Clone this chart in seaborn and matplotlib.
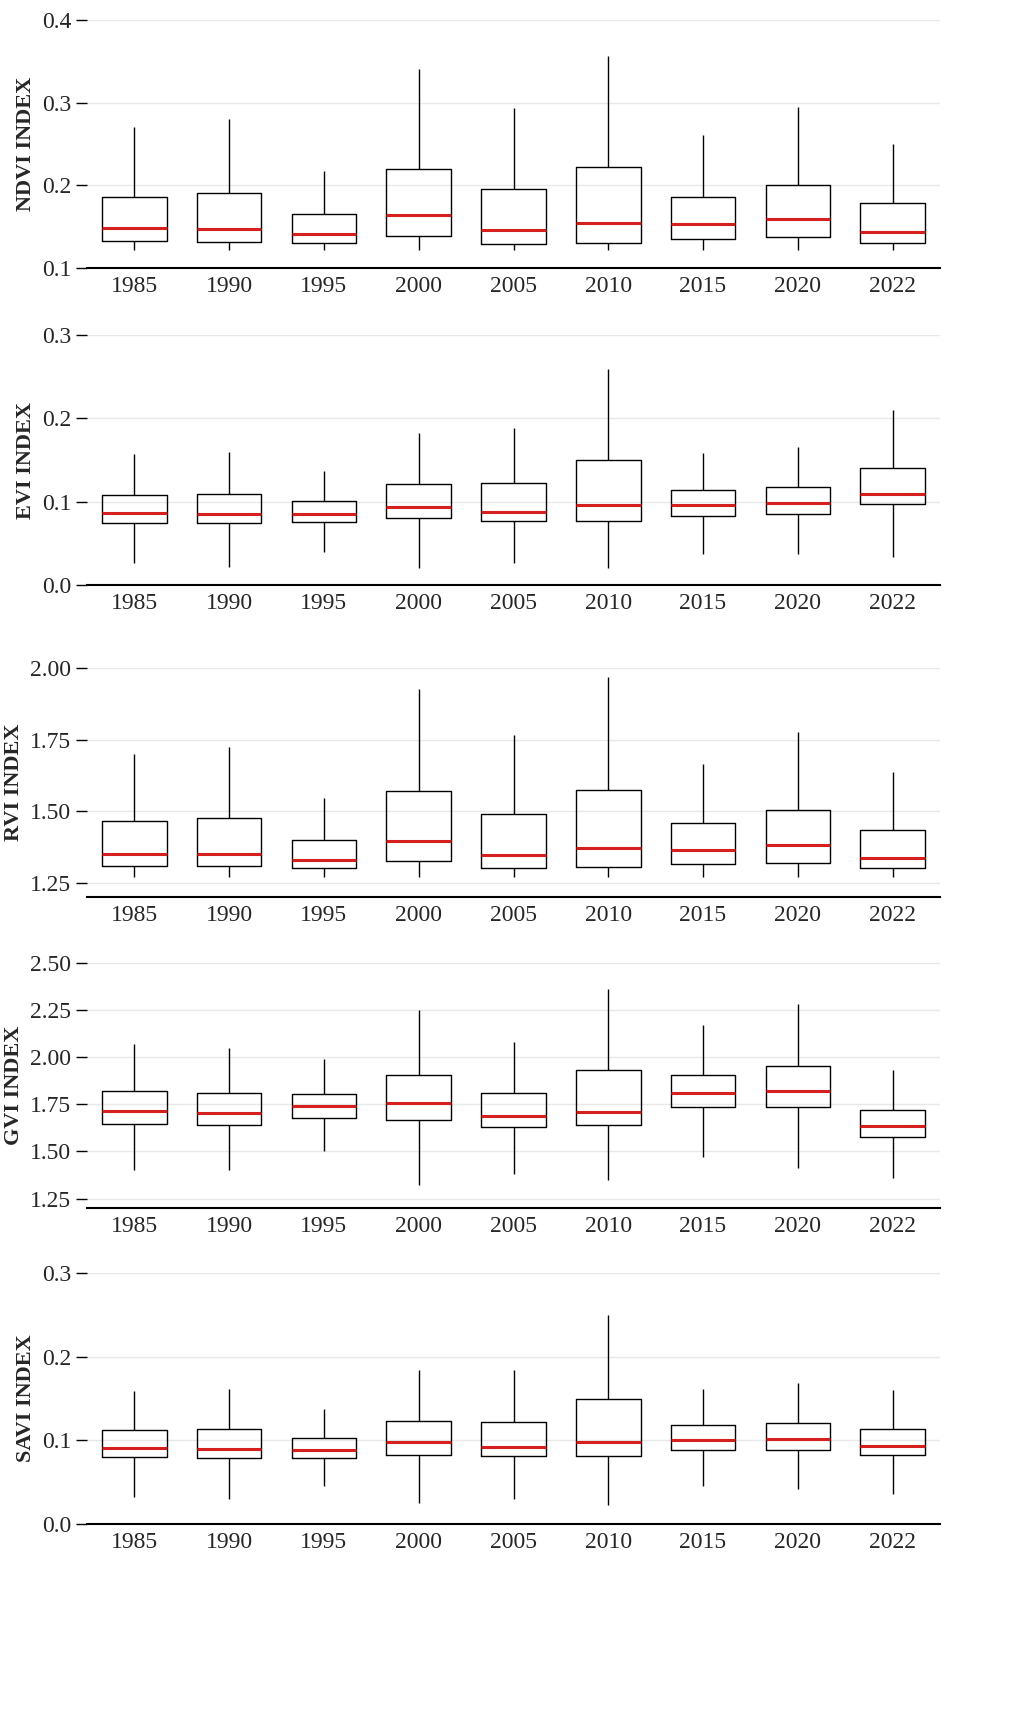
import numpy as np
import pandas as pd
import seaborn as sns
import matplotlib.pyplot as plt

years = ["1985", "1990", "1995", "2000", "2005", "2010", "2015", "2020", "2022"]

# each row: min, q1, median, q3, max
ndvi = [[0.122, 0.133, 0.148, 0.186, 0.270], [0.122, 0.131, 0.147, 0.191, 0.280],
        [0.122, 0.130, 0.141, 0.165, 0.217], [0.122, 0.139, 0.164, 0.220, 0.341],
        [0.122, 0.129, 0.146, 0.195, 0.293], [0.122, 0.130, 0.154, 0.222, 0.356],
        [0.122, 0.135, 0.153, 0.186, 0.261], [0.122, 0.137, 0.159, 0.200, 0.295],
        [0.122, 0.130, 0.144, 0.179, 0.250]]
evi = [[0.027, 0.075, 0.086, 0.108, 0.157], [0.022, 0.074, 0.085, 0.109, 0.160],
       [0.040, 0.076, 0.085, 0.101, 0.137], [0.020, 0.081, 0.094, 0.121, 0.183],
       [0.026, 0.077, 0.088, 0.122, 0.189], [0.021, 0.077, 0.096, 0.150, 0.259],
       [0.037, 0.083, 0.096, 0.114, 0.159], [0.037, 0.085, 0.098, 0.118, 0.166],
       [0.034, 0.097, 0.109, 0.141, 0.210]]
rvi = [[1.27, 1.31, 1.35, 1.465, 1.70], [1.27, 1.31, 1.35, 1.475, 1.725],
       [1.27, 1.30, 1.33, 1.40, 1.545], [1.27, 1.325, 1.395, 1.57, 1.925],
       [1.27, 1.30, 1.345, 1.49, 1.765], [1.27, 1.305, 1.37, 1.575, 1.97],
       [1.27, 1.315, 1.365, 1.46, 1.665], [1.27, 1.32, 1.38, 1.505, 1.775],
       [1.27, 1.30, 1.335, 1.435, 1.635]]
gvi = [[1.40, 1.645, 1.715, 1.82, 2.07], [1.40, 1.64, 1.705, 1.81, 2.05],
       [1.50, 1.68, 1.74, 1.805, 1.99], [1.32, 1.665, 1.755, 1.905, 2.25],
       [1.38, 1.63, 1.69, 1.81, 2.08], [1.35, 1.64, 1.71, 1.93, 2.36],
       [1.47, 1.735, 1.81, 1.905, 2.17], [1.41, 1.735, 1.82, 1.955, 2.28],
       [1.36, 1.575, 1.635, 1.72, 1.93]]
savi = [[0.032, 0.080, 0.091, 0.112, 0.159], [0.030, 0.079, 0.090, 0.113, 0.161],
        [0.046, 0.079, 0.089, 0.103, 0.137], [0.025, 0.083, 0.098, 0.123, 0.184],
        [0.030, 0.081, 0.092, 0.122, 0.184], [0.023, 0.081, 0.098, 0.150, 0.250],
        [0.045, 0.088, 0.100, 0.118, 0.161], [0.042, 0.089, 0.102, 0.121, 0.168],
        [0.036, 0.083, 0.093, 0.114, 0.160]]

# label, data, ylim, yticks, format, (top px, bottom px)
panels = [
    ("NDVI INDEX", ndvi, (0.1, 0.4), [0.1, 0.2, 0.3, 0.4], "{:.1f}", (20, 268)),
    ("EVI INDEX", evi, (0.0, 0.3), [0.0, 0.1, 0.2, 0.3], "{:.1f}", (335, 585)),
    ("RVI INDEX", rvi, (1.2, 2.0), [1.25, 1.5, 1.75, 2.0], "{:.2f}", (668, 897)),
    ("GVI INDEX", gvi, (1.2, 2.5), [1.25, 1.5, 1.75, 2.0, 2.25, 2.5], "{:.2f}", (963, 1208)),
    ("SAVI INDEX", savi, (0.0, 0.3), [0.0, 0.1, 0.2, 0.3], "{:.1f}", (1273, 1524)),
]

sns.set_theme(style="white")
plt.rcParams['font.family'] = ['Liberation Serif', 'DejaVu Serif']

W, H = 1033, 1719
fig = plt.figure(figsize=(W / 100, H / 100), dpi=100)
for label, stats, ylim, yt, fmt, (top, bot) in panels:
    ax = fig.add_axes([87 / W, 1 - bot / H, (940 - 87) / W, (bot - top) / H])
    # 5-point samples: linear quartiles land exactly on the given stats
    df = pd.DataFrame([(y, v) for y, s in zip(years, stats) for v in s], columns=["year", "val"])
    sns.boxplot(data=df, x="year", y="val", ax=ax, whis=np.inf, width=0.68,
                fill=False, color="black", linewidth=1.0, showcaps=False,
                medianprops=dict(color="#d62020", linewidth=2.2))
    ax.set_ylim(*ylim)
    ax.set_yticks(yt)
    ax.set_yticklabels([fmt.format(t) for t in yt], fontsize=17)
    ax.set_xlabel("")
    ax.set_ylabel(label, fontsize=16, fontweight="bold")
    ax.tick_params(axis="x", labelsize=17, length=0, pad=6)
    ax.tick_params(axis="y", left=True, length=8, width=1, direction="out", color="black")
    ax.yaxis.grid(True, color="#e8e8e8", linewidth=1)
    ax.set_axisbelow(True)
    for sp in ["left", "top", "right"]:
        ax.spines[sp].set_visible(False)
    ax.spines["bottom"].set_color("black")
    ax.spines["bottom"].set_linewidth(1.5)

fig.savefig("out.png", dpi=100)
